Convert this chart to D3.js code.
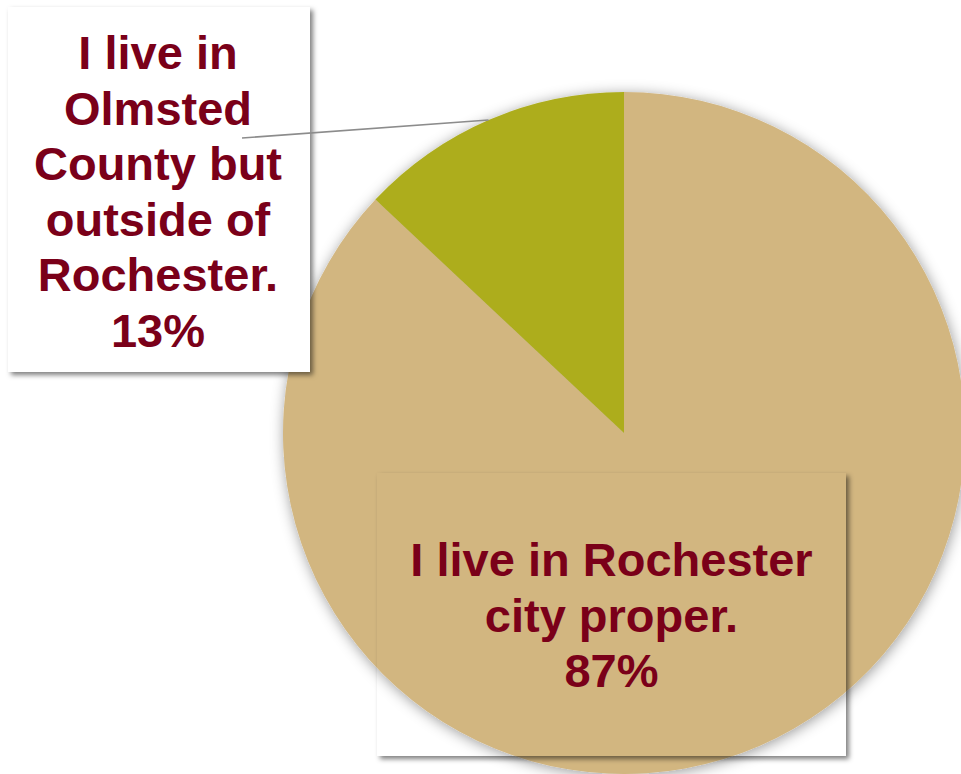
<!DOCTYPE html>
<html>
<head>
<meta charset="utf-8">
<script src="https://cdn.jsdelivr.net/npm/d3@7"></script>
<style>
  html, body { margin: 0; padding: 0; background: #fff; }
  svg { display: block; }
</style>
</head>
<body>
<svg id="chart" width="961" height="774"></svg>
<script>
// Where respondents live
const categories = ["I live in Rochester city proper.", "I live in Olmsted County but outside of Rochester."];
const values = [87, 13];
const colors = ["#D2B680", "#ADAD1E"];
// Wrapped label lines for each category (percentage appended below)
const labelLines = [
  ["I live in Rochester", "city proper."],
  ["I live in", "Olmsted", "County but", "outside of", "Rochester."]
];

const svg = d3.select("#chart");
const W = 961, H = 774;
const cx = 624, cy = 433, R = 341;
const textColor = "#7A0019";
const fontSize = 47, lineH = 55.5;

const defs = svg.append("defs");
const pieShadow = defs.append("filter").attr("id", "pieShadow")
  .attr("x", "-10%").attr("y", "-10%").attr("width", "120%").attr("height", "120%");
pieShadow.append("feDropShadow").attr("dx", 1).attr("dy", 2)
  .attr("stdDeviation", 7).attr("flood-color", "#000").attr("flood-opacity", 0.4);

const boxShadow = defs.append("filter").attr("id", "boxShadow")
  .attr("x", "-10%").attr("y", "-10%").attr("width", "120%").attr("height", "120%");
boxShadow.append("feDropShadow").attr("dx", 3).attr("dy", 3)
  .attr("stdDeviation", 2.5).attr("flood-color", "#000").attr("flood-opacity", 0.5);

// Pie
const pie = d3.pie().sort(null).value(d => d)(values);
const arc = d3.arc().innerRadius(0).outerRadius(R);
const pieG = svg.append("g").attr("transform", `translate(${cx},${cy})`)
  .attr("filter", "url(#pieShadow)");
pieG.selectAll("path").data(pie).join("path")
  .attr("d", arc)
  .attr("fill", (d, i) => colors[i]);

// Label boxes
const boxes = [
  { x: 377, y: 473, w: 469, h: 283 },
  { x: 8, y: 7, w: 302, h: 365 }
];

// Box for the large slice: frame shadow only, the pie shows through
const b0 = boxes[0];
const mask = defs.append("mask").attr("id", "outsideBox0");
mask.append("rect").attr("x", 0).attr("y", 0).attr("width", W).attr("height", H).attr("fill", "#fff");
mask.append("rect").attr("x", b0.x).attr("y", b0.y).attr("width", b0.w).attr("height", b0.h).attr("fill", "#000");
const blur = defs.append("filter").attr("id", "blur3")
  .attr("x", "-10%").attr("y", "-10%").attr("width", "120%").attr("height", "120%");
blur.append("feGaussianBlur").attr("stdDeviation", 2.5);
svg.append("g").attr("mask", "url(#outsideBox0)")
  .append("rect")
  .attr("x", b0.x + 3).attr("y", b0.y + 3).attr("width", b0.w).attr("height", b0.h)
  .attr("fill", "rgba(0,0,0,0.5)").attr("filter", "url(#blur3)");

// Box for the small slice: white card
const b1 = boxes[1];
svg.append("rect")
  .attr("x", b1.x).attr("y", b1.y).attr("width", b1.w).attr("height", b1.h)
  .attr("fill", "#fff").attr("filter", "url(#boxShadow)");

// Leader line from the small-slice label to the middle of its arc
const smallArc = pie[1];
const leaderAngle = (smallArc.startAngle + smallArc.endAngle) / 2;
const ex = cx + R * Math.sin(leaderAngle), ey = cy - R * Math.cos(leaderAngle);
svg.append("line")
  .attr("x1", 242).attr("y1", 138).attr("x2", ex).attr("y2", ey)
  .attr("stroke", "#8c8c8c").attr("stroke-width", 1.6);

// Label texts
function drawLabel(lines, centerX, firstBaseline) {
  const t = svg.append("text")
    .attr("text-anchor", "middle")
    .attr("font-family", "Liberation Sans, Arial, sans-serif")
    .attr("font-weight", "bold")
    .attr("font-size", fontSize)
    .attr("fill", textColor);
  lines.forEach((ln, i) => {
    t.append("tspan").attr("x", centerX).attr("y", firstBaseline + i * lineH).text(ln);
  });
}
drawLabel([...labelLines[0], values[0] + "%"], b0.x + b0.w / 2, 576);
drawLabel([...labelLines[1], values[1] + "%"], b1.x + b1.w / 2 - 1, 69);
</script>
</body>
</html>
